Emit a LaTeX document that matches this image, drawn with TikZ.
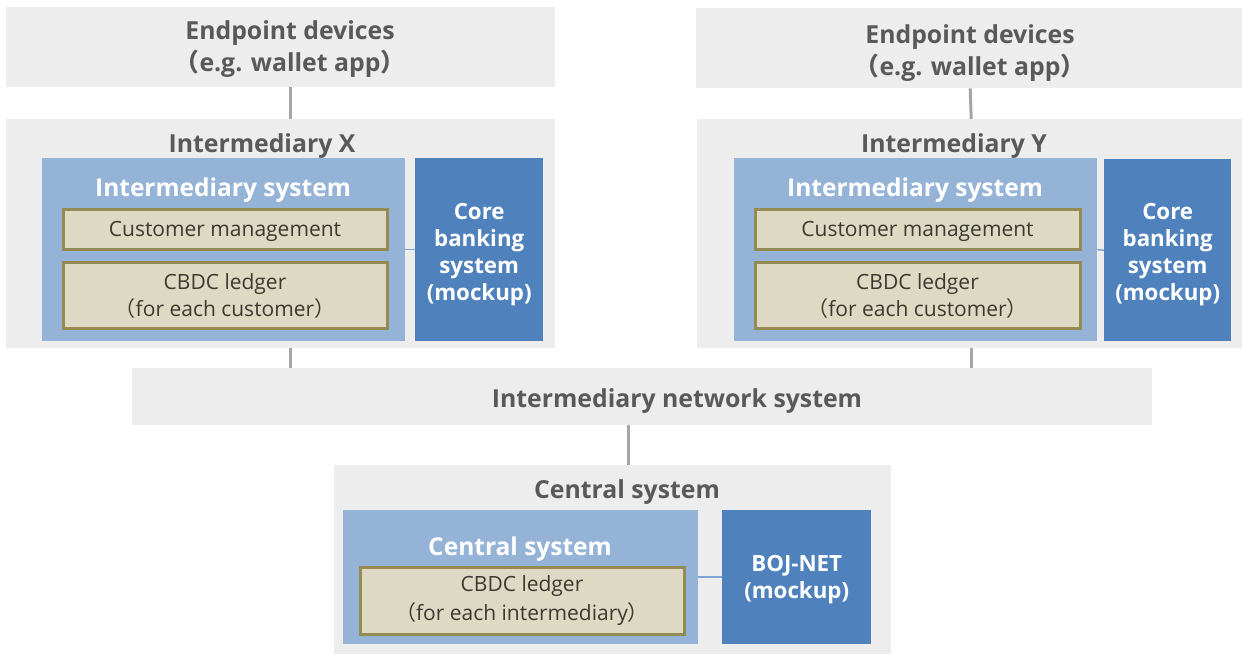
\documentclass[tikz,border=0pt]{standalone}
\usepackage{fontspec}
\setmainfont{Open Sans}
\newfontfamily\cjkfont{Noto Sans CJK JP}
\newcommand{\lpar}{{\cjkfont （}}
\newcommand{\rpar}{{\cjkfont ）}}

\definecolor{panelgray}{HTML}{EDEDED}
\definecolor{sysblue}{HTML}{95B3D7}
\definecolor{coreblue}{HTML}{4F81BD}
\definecolor{ledgerfill}{HTML}{DDD9C3}
\definecolor{ledgerline}{HTML}{948A54}
\definecolor{titlegray}{HTML}{595959}
\definecolor{ledgertext}{HTML}{3A3A30}
\definecolor{linkgray}{HTML}{A6A6A6}
\definecolor{linkblue}{HTML}{7EA6D8}

\tikzset{
  panel/.style={fill=panelgray, draw=none, inner sep=0pt},
  sysbox/.style={fill=sysblue, draw=none, inner sep=0pt},
  corebox/.style={fill=coreblue, draw=none, inner sep=0pt},
  ledger/.style={fill=ledgerfill, draw=ledgerline, line width=3pt, inner sep=0pt},
  coretext/.style={text=white, align=center, inner sep=0pt,
    font=\bfseries\fontsize{22.3}{27}\selectfont},
  ledgertxt/.style={text=ledgertext, align=center, inner sep=0pt,
    font=\fontsize{21}{27}\selectfont},
  grayhead/.style={text=titlegray, align=center, inner sep=0pt,
    font=\bfseries\fontsize{24.8}{32}\selectfont},
  whitehead/.style={text=white, inner sep=0pt, font=\bfseries\fontsize{24.5}{28}\selectfont},
  glink/.style={draw=linkgray, line width=3pt},
  blink/.style={draw=linkblue, line width=1.5pt}
}
% box: style, name, x1, y1, x2, y2  (pixel-like units, y downward)
\newcommand{\pbox}[6]{%
  \node[#1, anchor=north west, minimum width={(#5-#3)*1pt},
        minimum height={(#6-#4)*1pt}] (#2) at (#3,#4) {};}

\begin{document}
\begin{tikzpicture}[x=1pt, y=-1pt]
\useasboundingbox (0,0) rectangle (1242,655);

% endpoint devices
\pbox{panel}{epL}{6}{7}{555}{87}
\pbox{panel}{epR}{696}{8}{1242}{88}
\node[grayhead] (epLt) at (290,49) {Endpoint devices\\\lpar e.g. wallet app\rpar};
\node[grayhead] (epRt) at (970,53) {Endpoint devices\\\lpar e.g. wallet app\rpar};

% intermediary X
\pbox{panel}{intX}{6}{119}{555}{348}
\node[grayhead] (intXt) at (262,146) {Intermediary X};
\pbox{sysbox}{sysX}{42}{158}{405}{341}
\node[whitehead] (sysXt) at (223,190) {Intermediary system};
\pbox{ledger}{cmX}{61.5}{208.5}{385.5}{247.5}
\node[ledgertxt] (cmXt) at ([yshift=-1.5pt]cmX.center) {Customer management};
\pbox{ledger}{lgX}{61.5}{260.5}{385.5}{326.5}
\node[ledgertxt] (lgXt) at ([yshift=-1pt]lgX.center) {CBDC ledger\\\lpar for each customer\rpar};
\pbox{corebox}{coreX}{415}{158}{543}{341}
\node[coretext] (coreXt) at ([yshift=-4.5pt]coreX.center) {Core\\banking\\system\\(mockup)};

% intermediary Y
\pbox{panel}{intY}{697}{119}{1242}{348}
\node[grayhead] (intYt) at (954,146) {Intermediary Y};
\pbox{sysbox}{sysY}{734}{158}{1097}{341}
\node[whitehead] (sysYt) at (915,190) {Intermediary system};
\pbox{ledger}{cmY}{753.5}{208.5}{1078.5}{247.5}
\node[ledgertxt] (cmYt) at ([yshift=-1.5pt]cmY.center) {Customer management};
\pbox{ledger}{lgY}{753.5}{260.5}{1078.5}{326.5}
\node[ledgertxt] (lgYt) at ([yshift=-1pt]lgY.center) {CBDC ledger\\\lpar for each customer\rpar};
\pbox{corebox}{coreY}{1104}{159}{1231}{341}
\node[coretext] (coreYt) at ([yshift=-4.5pt]coreY.center) {Core\\banking\\system\\(mockup)};

% network
\pbox{panel}{net}{132}{368}{1152}{425}
\node[grayhead] (nett) at (677,401) {Intermediary network system};

% central
\pbox{panel}{cent}{334}{465}{891}{654}
\node[grayhead] (centt) at (627,492) {Central system};
\pbox{sysbox}{sysC}{343}{510}{698}{644}
\node[whitehead] (sysCt) at (520,549) {Central system};
\pbox{ledger}{lgC}{358.5}{565.5}{682.5}{632.5}
\node[ledgertxt] (lgCt) at ([yshift=-0.5pt]lgC.center) {CBDC ledger\\[2pt]\lpar for each intermediary\rpar};
\pbox{corebox}{boj}{722}{510}{871}{644}
\node[coretext] (bojt) at ([yshift=-2.5pt]boj.center) {BOJ-NET\\(mockup)};

% connectors
\draw[glink] ([xshift=9.5pt]epL.south) -- ([xshift=9.5pt]intX.north);
\draw[glink] ([xshift=1pt]epR.south) -- ([xshift=1.5pt]intY.north);
\draw[glink] ([xshift=9.5pt]intX.south) -- ([xshift=9.5pt]intX.south |- net.north);
\draw[glink] ([xshift=1.5pt]intY.south) -- ([xshift=1.5pt]intY.south |- net.north);
\draw[glink] ([xshift=-14pt]net.south) -- ([xshift=-14pt]net.south |- cent.north);
\draw[blink] (sysX.east) -- (coreX.west);
\draw[blink] (sysY.east) -- (coreY.west);
\draw[blink] (sysC.east) -- (boj.west);
\end{tikzpicture}
\end{document}
